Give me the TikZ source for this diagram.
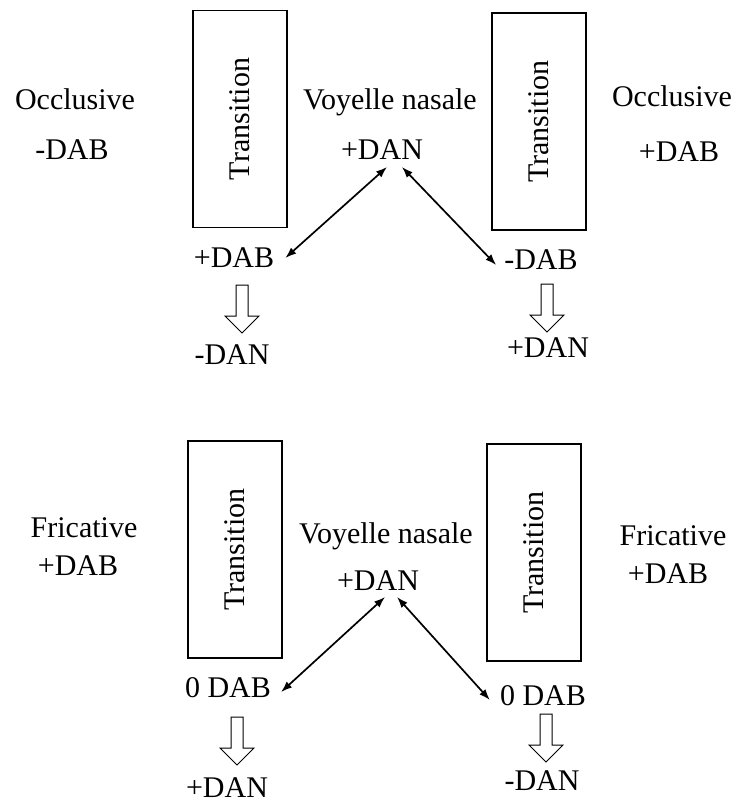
\documentclass[tikz,border=0pt]{standalone}
\usepackage{fontspec}
\setmainfont{Liberation Serif}
\usetikzlibrary{arrows.meta,calc}
\begin{document}
\begin{tikzpicture}[x=1pt,y=-1pt,
  lbl/.style={inner sep=0pt,anchor=base,font=\fontsize{30}{36}\selectfont},
  trans/.style={draw,line width=1.1pt,rotate=90,minimum width=217pt,minimum height=94pt,inner sep=0pt,font=\fontsize{30}{36}\selectfont},
  link/.style={{Latex[length=11pt,width=8pt]}-{Latex[length=11pt,width=8pt]},line width=1.7pt},
  hollowdown/.pic={\draw[line width=1pt,fill=white] (-6,0) -- (-6,31) -- (-17,31) -- (0,48) -- (17,31) -- (6,31) -- (6,0) -- cycle;}]
\useasboundingbox (0,0) rectangle (742,805);
% ---------- top diagram ----------
\node[trans] (boxTL) at (240,119) {Transition};
\node[trans] (boxTR) at (539,121.5) {Transition};
\node[lbl] (occL) at (75,110) {Occlusive};
\node[lbl] (dabOL) at (72,160) {-DAB};
\node[lbl] (voyT) at (390,110) {Voyelle nasale};
\node[lbl] (danT) at (382,160) {+DAN};
\node[lbl] (occR) at (672,107) {Occlusive};
\node[lbl] (dabOR) at (679,162) {+DAB};
\node[lbl] (dabTL) at (234,267) {+DAB};
\node[lbl] (danTL) at (232,364) {-DAN};
\node[lbl] (dabTR) at (541,269) {-DAB};
\node[lbl] (danTR) at (548,357) {+DAN};
\draw[link] ($(danT.base)+(5,7)$) -- ($(dabTL.base east)+(11,-9)$);
\draw[link] ($(danT.base)+(20,7)$) -- ($(dabTR.base west)+(-8,-4)$);
\coordinate (hTL) at (242,285);
\coordinate (hTR) at (547,284);
\pic at (hTL) {hollowdown};
\pic at (hTR) {hollowdown};
% ---------- bottom diagram ----------
\node[trans] (boxBL) at (235,549.5) {Transition};
\node[trans] (boxBR) at (534,552.5) {Transition};
\node[lbl] (friL) at (84,537) {Fricative};
\node[lbl] (dabFL) at (78,575) {+DAB};
\node[lbl] (voyB) at (386,543) {Voyelle nasale};
\node[lbl] (danB) at (378,590) {+DAN};
\node[lbl] (friR) at (673,545) {Fricative};
\node[lbl] (dabFR) at (668,583) {+DAB};
\node[lbl] (dabBL) at (228,697) {0 DAB};
\node[lbl] (danBL) at (227,797) {+DAN};
\node[lbl] (dabBR) at (543,705) {0 DAB};
\node[lbl] (danBR) at (542,790) {-DAN};
\draw[link] ($(danB.base)+(7,7)$) -- ($(dabBL.base east)+(10,-5)$);
\draw[link] ($(danB.base)+(19,7)$) -- ($(dabBR.base west)+(-10,-5)$);
\coordinate (hBL) at (237,717);
\coordinate (hBR) at (546,714);
\pic at (hBL) {hollowdown};
\pic at (hBR) {hollowdown};
\end{tikzpicture}
\end{document}
